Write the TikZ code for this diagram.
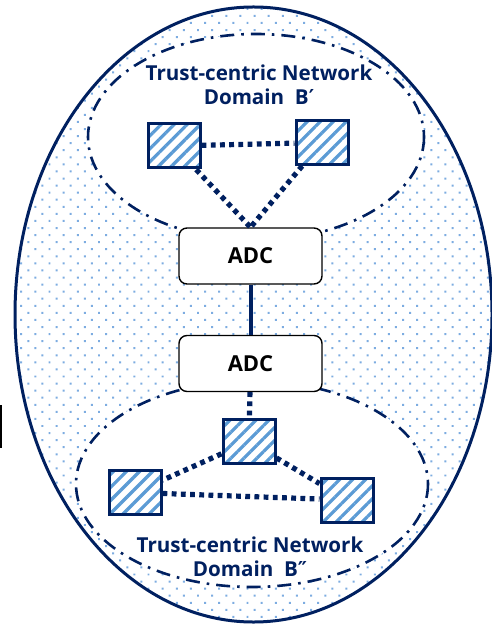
\documentclass[tikz,border=0pt]{standalone}
\usepackage{fontspec}
\setmainfont{Open Sans}
\newfontfamily\primefont{DejaVu Sans}
\usetikzlibrary{patterns.meta}

\definecolor{navy}{RGB}{0,32,96}
\definecolor{hatchblue}{RGB}{91,155,213}
\definecolor{dotblue}{RGB}{125,172,225}

\tikzset{
  trustzone/.style={draw=navy, line width=1.3pt, fill=white, dash pattern=on 7pt off 3.5pt on 1.3pt off 3.5pt},
  adcbox/.style={draw=black, line width=0.7pt, fill=white, rounded corners=4pt,
    minimum width=71.5pt, minimum height=28pt, font=\bfseries\fontsize{11}{13}\selectfont},
  peer/.style={draw=navy, line width=1.5pt, fill=white,
    pattern={Lines[angle=45,distance=4.6pt,line width=1.6pt]}, pattern color=hatchblue,
    minimum width=26pt, minimum height=22pt, inner sep=0pt},
  trustlink/.style={navy, line width=2.6pt, dash pattern=on 2.4pt off 2.2pt},
  zonetext/.style={text=navy, font=\bfseries\fontsize{10.3}{12}\selectfont, align=center}
}

\begin{document}
\begin{tikzpicture}[x=0.5pt,y=-0.5pt]
  \useasboundingbox (0,0) rectangle (491,624);
  \draw[navy, line width=1.5pt, fill=white, pattern={Dots[angle=45,distance=5pt,radius=0.7pt]}, pattern color=dotblue]
    (253.5,314.5) ellipse [x radius=238.5, y radius=307.5];
  \draw[line width=1.2pt] (1,405) -- (1,448);
  \draw[trustzone] (256,137) ellipse [x radius=168, y radius=103];
  \draw[trustzone] (252,484) ellipse [x radius=176, y radius=103];

  \node[zonetext] (topname) at (259,85) {Trust-centric Network\\Domain~~B{\primefont\bfseries ′}};
  \node[zonetext] (botname) at (250,557) {Trust-centric Network\\Domain~~B{\primefont\bfseries ″}};

  \node[adcbox] (adctop) at (250.5,256) {ADC};
  \node[adcbox] (adcbot) at (250.5,363.5) {ADC};
  \draw[navy, line width=2pt] (adctop) -- (adcbot);

  \node[peer] (tl) at (174,146) {};
  \node[peer] (tr) at (322,142.5) {};
  \node[peer] (bt) at (249,441.5) {};
  \node[peer] (bl) at (135,492.5) {};
  \node[peer] (br) at (347,500) {};

  \draw[trustlink] (tl) -- (tr);
  \draw[trustlink] (tl) -- (adctop.north);
  \draw[trustlink] (tr) -- (adctop.north);
  \draw[trustlink] (adcbot) -- (bt);
  \draw[trustlink] (bt) -- (bl);
  \draw[trustlink] (bt) -- (br);
  \draw[trustlink] (bl) -- (br);
\end{tikzpicture}
\end{document}
